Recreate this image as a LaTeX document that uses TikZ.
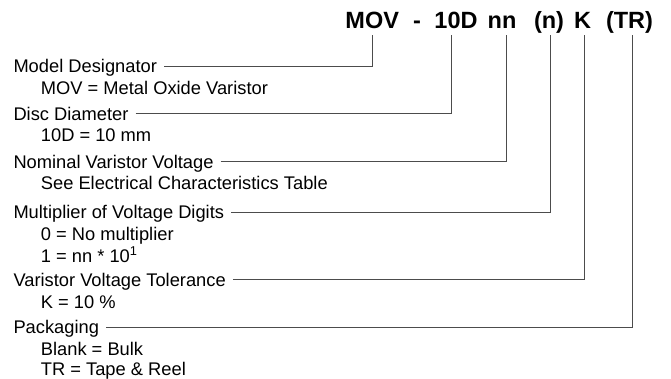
\documentclass[tikz,border=0pt]{standalone}
\usepackage{fontspec}
\setmainfont{Liberation Sans}

\begin{document}
\begin{tikzpicture}[x=1pt,y=-1pt]
    \useasboundingbox (0,0) rectangle (671,379);
    % part number
    \begin{scope}[
        every node/.style={font=\fontsize{23.5}{28}\selectfont\bfseries,anchor=base,inner sep=0pt}
    ]
        \node (MOV) at (372.2,29) {MOV};
        \node (dash) at (417,29) {-};
        \node (dia) at (456,29) {10D};
        \node (volt) at (502,29) {nn};
        \node (mult) at (549,29) {(n)};
        \node (tol) at (582.5,29) {K};
        \node (pack) at (629.5,29) {(TR)};
    \end{scope}
    \coordinate (cMOV) at (372.7,35);
    \coordinate (cdia) at (451.7,35);
    \coordinate (cvolt) at (506,35);
    \coordinate (cmult) at (550,35);
    \coordinate (ctol) at (584.7,35);
    \coordinate (cpack) at (632.7,35);
    % field names
    \begin{scope}[
        every node/.style={font=\fontsize{18.3}{22}\selectfont,anchor=west,inner sep=0pt,text height=13.2pt,text depth=0pt}
    ]
        \node (hMOV) at (13.3,66) {Model Designator};
        \node (hdia) at (13.3,113.7) {Disc Diameter};
        \node (hvolt) at (13.3,161.7) {Nominal Varistor Voltage};
        \node (hmult) at (13.3,212.3) {Multiplier of Voltage Digits};
        \node (htol) at (13.3,279.7) {Varistor Voltage Tolerance};
        \node (hpack) at (13.3,327.3) {Packaging};
    \end{scope}
    % field values
    \begin{scope}[
        every node/.style={font=\fontsize{18.3}{22}\selectfont,anchor=base west,inner sep=0pt}
    ]
        \node (vMOV) at (40.7,94.3) {MOV = Metal Oxide Varistor};
        \node (vdia) at (40.7,142) {10D = 10 mm};
        \node (vvolt) at (40.7,189.5) {See Electrical Characteristics Table};
        \node (vmulta) at (40.7,240.5) {0 = No multiplier};
        \node (vmultb) at (40.7,262) {1 = nn * 10\textsuperscript{1}};
        \node (vtol) at (40.7,308) {K = 10 \%};
        \node (vpacka) at (40.7,355) {Blank = Bulk};
        \node (vpackb) at (40.7,375.5) {TR = Tape \& Reel};
    \end{scope}
    % leaders
    \begin{scope}[
        every path/.style={draw=black!70,line width=0.9pt}
    ]
        \path ([xshift=7pt]hMOV.east) -| (cMOV);
        \path ([xshift=7pt]hdia.east) -| (cdia);
        \path ([xshift=7pt]hvolt.east) -| (cvolt);
        \path ([xshift=7pt]hmult.east) -| (cmult);
        \path ([xshift=7pt]htol.east) -| (ctol);
        \path ([xshift=7pt]hpack.east) -| (cpack);
    \end{scope}
\end{tikzpicture}
\end{document}
